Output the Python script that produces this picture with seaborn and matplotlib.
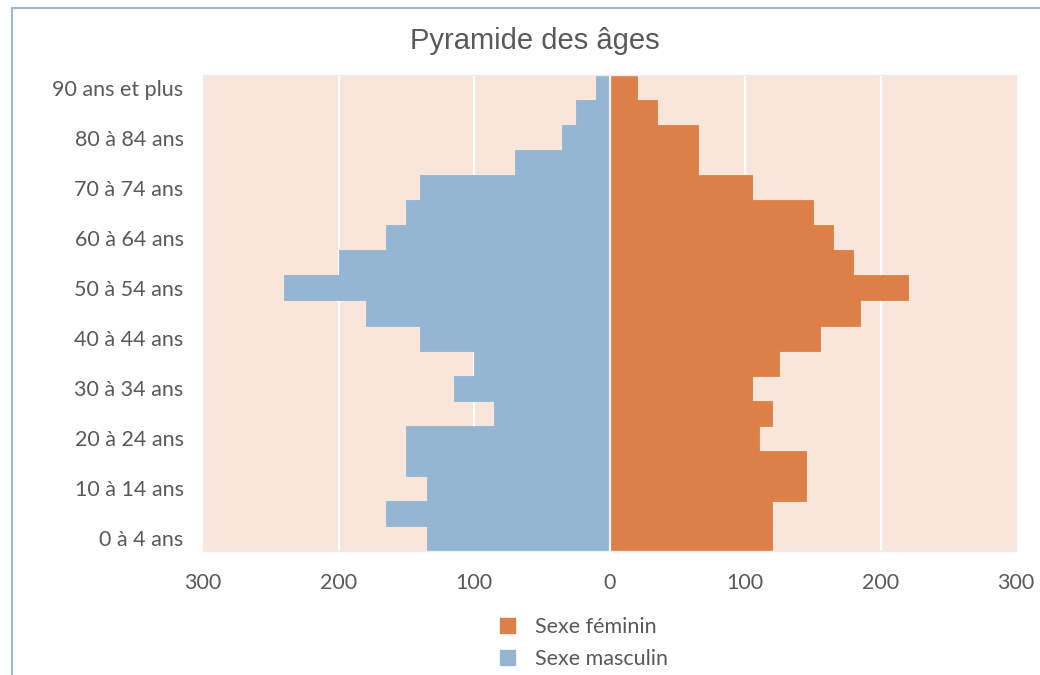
import numpy as np
import pandas as pd
import matplotlib
matplotlib.use("Agg")
import matplotlib.pyplot as plt
import matplotlib.patches as mpatches
import seaborn as sns

# ---- data (top row = oldest group) ----
age_groups = ["90 ans et plus", "85 à 89 ans", "80 à 84 ans", "75 à 79 ans", "70 à 74 ans",
              "65 à 69 ans", "60 à 64 ans", "55 à 59 ans", "50 à 54 ans", "45 à 49 ans",
              "40 à 44 ans", "35 à 39 ans", "30 à 34 ans", "25 à 29 ans", "20 à 24 ans",
              "15 à 19 ans", "10 à 14 ans", "5 à 9 ans", "0 à 4 ans"]
hommes = [10, 25, 35, 70, 140, 150, 165, 200, 240, 180,
          140, 100, 115, 85, 150, 150, 135, 165, 135]
femmes = [20, 35, 65, 65, 105, 150, 165, 180, 220, 185,
          155, 125, 105, 120, 110, 145, 145, 120, 120]
series_names = ["Sexe féminin", "Sexe masculin"]
x_ticks = [-300, -200, -100, 0, 100, 200, 300]
x_tick_labels = ["300", "200", "100", "0", "100", "200", "300"]
title = "Pyramide des âges"

col_f = "#DD8047"
col_m = "#94B6D2"

df = pd.DataFrame({
    "age": age_groups * 2,
    "valeur": list(femmes) + [-v for v in hommes],
    "sexe": [series_names[0]] * len(femmes) + [series_names[1]] * len(hommes),
})

sns.set_theme(style="white")
plt.rcParams["font.family"] = ["Lato", "DejaVu Sans"]

fig = plt.figure(figsize=(10.4, 6.75), dpi=100)
ax = fig.add_axes([203 / 1040, 1 - 551 / 675, (1016 - 203) / 1040, (551 - 75) / 675])
ax.set_facecolor("#F8E6DB")

sns.barplot(data=df, x="valeur", y="age", hue="sexe", order=age_groups,
            hue_order=series_names, palette=[col_f, col_m], dodge=False,
            saturation=1, width=1.0, orient="h", ax=ax, legend=False, zorder=2)
for bar in ax.patches:
    fc = bar.get_facecolor()
    bar.set_edgecolor(fc)
    bar.set_linewidth(0.6)

ax.axvline(0, color="#F2F2F2", lw=1.6, zorder=3)
ax.set_xlim(-300, 300)
ax.set_ylim(len(age_groups) - 0.5, -0.5)
ax.set_xticks(x_ticks)
ax.set_xticklabels(x_tick_labels)
ax.set_yticks(range(0, len(age_groups), 2))
ax.set_yticklabels(age_groups[::2])
for x in [-200, -100, 100, 200]:
    ax.axvline(x, color="white", lw=1.6, zorder=1)
ax.tick_params(axis="both", length=0, labelsize=15.5, colors="#595959")
ax.tick_params(axis="y", pad=14)
ax.tick_params(axis="x", pad=16)
ax.set_xlabel("")
ax.set_ylabel("")
for s in ax.spines.values():
    s.set_color("#ECECEC")
    s.set_linewidth(1.0)

fig.text(535 / 1040, 1 - 41 / 675, title, ha="center", va="center",
         fontsize=21, color="#595959", family=["Liberation Sans", "DejaVu Sans"])

handles = [mpatches.Patch(color=col_f, label=series_names[0]),
           mpatches.Patch(color=col_m, label=series_names[1])]
leg = fig.legend(handles=handles, loc="center", bbox_to_anchor=(584 / 1040, 1 - 643 / 675),
                 frameon=False, fontsize=15.5, handlelength=0.7, handleheight=0.7,
                 handletextpad=0.9, labelspacing=0.55)
for t in leg.get_texts():
    t.set_color("#595959")

# chart frame (only top and left edges visible)
fig.add_artist(plt.Line2D([12 / 1040, 12 / 1040], [1 - 8 / 675, 0], transform=fig.transFigure,
                          color="#9CB8D4", lw=1.5))
fig.add_artist(plt.Line2D([12 / 1040, 1], [1 - 8 / 675, 1 - 8 / 675], transform=fig.transFigure,
                          color="#9CB8D4", lw=1.5))

fig.savefig("out.png", dpi=100, facecolor="white")
